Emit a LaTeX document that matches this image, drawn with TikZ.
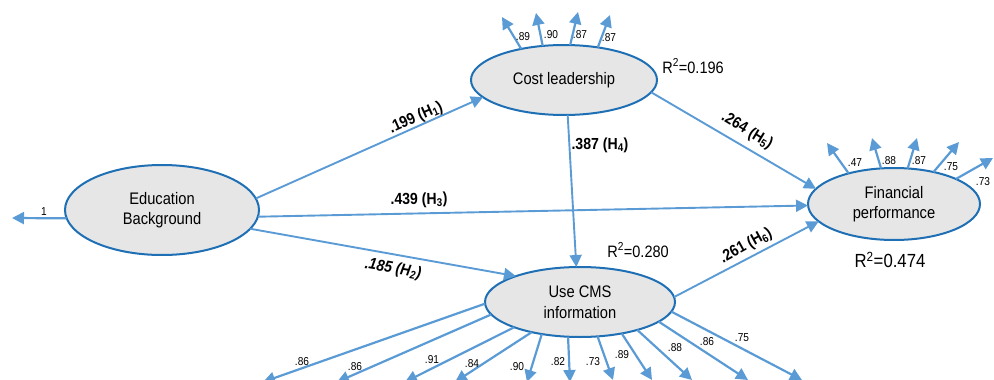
\documentclass[tikz,border=0pt]{standalone}
\usepackage{fontspec}
\setmainfont{Liberation Sans}[FakeStretch=0.88]
\usetikzlibrary{shapes.geometric,arrows.meta}
\definecolor{ellline}{HTML}{1F6FB5}
\definecolor{arr}{HTML}{5B9BD5}
\definecolor{ellfill}{HTML}{E6E6E6}
\begin{document}
\begin{tikzpicture}[x=1pt,y=-1pt,
  lat/.style={ellipse,draw=ellline,line width=2pt,fill=ellfill,inner sep=0pt,outer sep=0pt,align=center,font=\fontsize{16.7}{20.5}\selectfont},
  ind/.style={draw=arr,line width=2.2pt,-{Triangle[length=12pt,width=12pt]}},
  pth/.style={draw=arr,line width=1.9pt,-{Triangle[length=12pt,width=12pt]}},
  lab/.style={font=\fontsize{11.5}{12}\selectfont,inner sep=0pt},
  hyp/.style={font=\bfseries\fontsize{16}{17}\selectfont,inner sep=0pt},
  rsq/.style={font=\fontsize{16.5}{18}\selectfont,inner sep=0pt}]
\useasboundingbox (0,0) rectangle (994,380);

% latent variables
\node[lat,minimum width=194pt,minimum height=90pt] (edu) at (162,210) {Education\\Background};
\node[lat,minimum width=186pt,minimum height=70pt] (cost) at (564,80) {Cost leadership};
\node[lat,minimum width=190pt,minimum height=70pt] (cms) at (580,302) {Use CMS\\information};
\node[lat,minimum width=172pt,minimum height=72pt] (fin) at (894,204) {Financial\\performance};

% indicators of Education Background
\coordinate (e1) at (12,218);
\draw[ind] (edu.185) -- (e1);
\node[lab] (le1) at (44,212) {1};

% indicators of Cost leadership
\foreach \a/\x/\y/\n in {144/502/17/k1,122/536/13/k2,80/578/12/k3,44/610/15/k4}{
  \coordinate (\n) at (\x,\y);
  \draw[ind] (cost.\a) -- (\n);
}
\node[lab] (lk1) at (523,37) {.89};
\node[lab] (lk2) at (551,35) {.90};
\node[lab] (lk3) at (580,35) {.87};
\node[lab] (lk4) at (609,38) {.87};

% indicators of Financial performance
\foreach \a/\x/\y/\n in {146/827/143/f1,110/872/138/f2,69/917/138/f3,39/959/142/f4,22/993/158/f5}{
  \coordinate (\n) at (\x,\y);
  \draw[ind] (fin.\a) -- (\n);
}
\node[lab] (lf1) at (855,163) {.47};
\node[lab] (lf2) at (889,161) {.88};
\node[lab] (lf3) at (919,161) {.87};
\node[lab] (lf4) at (951,167) {.75};
\node[lab] (lf5) at (983,182) {.73};

% indicators of Use CMS information
\foreach \a/\x/\y/\n in {181/263/382/m1,188/337/382/m2,201/405/382/m3,212/455/382/m4,220/527/382/m5,251/570/382/m6,297/613/380/m7,323/652/380/m8,334/692/380/m9,346/748/380/m10,354/802/380/m11}{
  \coordinate (\n) at (\x,\y);
  \draw[ind] (cms.\a) -- (\n);
}
\node[lab] (lm1) at (302,362) {.86};
\node[lab] (lm2) at (355,367) {.86};
\node[lab] (lm3) at (432,360) {.91};
\node[lab] (lm4) at (472,364) {.84};
\node[lab] (lm5) at (517,367) {.90};
\node[lab] (lm6) at (558,362) {.82};
\node[lab] (lm7) at (593,362) {.73};
\node[lab] (lm8) at (622,355) {.89};
\node[lab] (lm9) at (675,348) {.88};
\node[lab] (lm10) at (707,342) {.86};
\node[lab] (lm11) at (742,338) {.75};

% structural paths
\draw[pth] (edu.7) -- (cost.192);
\draw[pth] (edu.-4) -- (fin.181);
\draw[pth] (edu.-12) -- (cms.158);
\draw[pth] (cost.-84) -- (cms.96);
\draw[pth] (cost.-8) -- (fin.169);
\draw[pth] (cms.3) -- (fin.193);

\node[hyp,rotate=24] (h1) at (416,118) {.199 (H\textsubscript{1})};
\node[hyp,rotate=1] (h3) at (419,200) {.439 (H\textsubscript{3})};
\node[hyp,rotate=-10] (h2) at (393,269) {\itshape .185 (H\textsubscript{2})};
\node[hyp] (h4) at (600,145) {.387 (H\textsubscript{4})};
\node[hyp,rotate=-31] (h5) at (747,131) {.264 (H\textsubscript{5})};
\node[hyp,rotate=29] (h6) at (746,246) {.261 (H\textsubscript{6})};

% R squared
\node[rsq] (r1) at (693,66) {R\textsuperscript{2}=0.196};
\node[rsq] (r2) at (638,250) {R\textsuperscript{2}=0.280};
\node[rsq,font=\fontsize{19}{20}\selectfont] (r3) at (890,260) {R\textsuperscript{2}=0.474};
\end{tikzpicture}
\end{document}
